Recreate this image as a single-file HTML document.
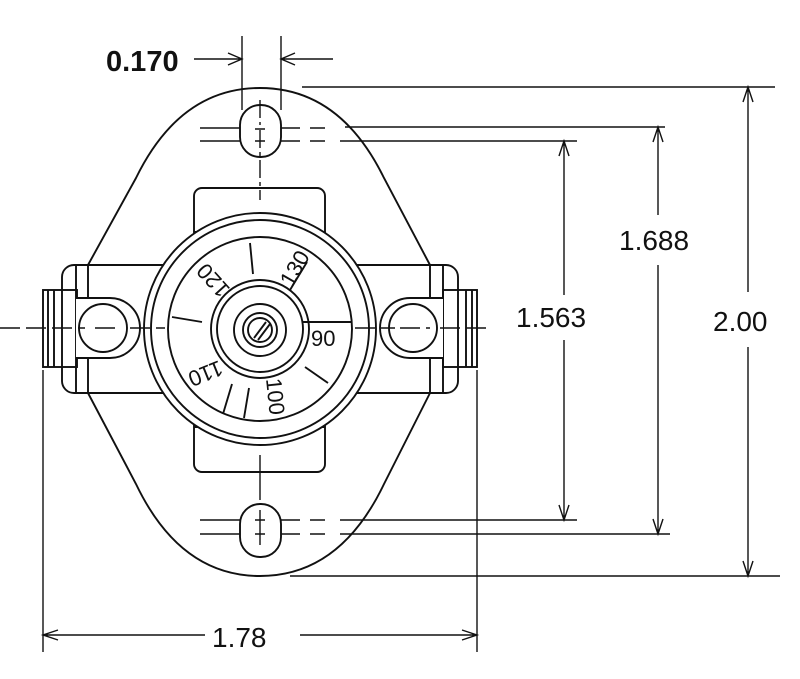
<!DOCTYPE html>
<html><head><style>html,body{margin:0;padding:0;background:#fff}svg{display:block}</style></head>
<body>
<svg width="800" height="679" viewBox="0 0 800 679" xmlns="http://www.w3.org/2000/svg" font-family="Liberation Sans, Arial, sans-serif">
<g fill="none" stroke="#111" stroke-width="1.9">
<path d="M88,265 L136,178 Q180,88 260,88 Q340,88 384,178 L430,265"/>
<path d="M88,393 L136,484 Q180,576 260,576 Q340,576 384,484 L430,393"/>
<path d="M76,265 H443 M76,393 H443"/>
<rect x="62" y="265" width="396" height="128" rx="12"/>
<path d="M76,265 V393 M88,265 V393 M430,265 V393 M443,265 V393"/>
<rect x="43" y="290" width="34" height="77"/>
<path d="M48,290 V367 M54,290 V367"/>
<rect x="443" y="290" width="34" height="77"/>
<path d="M472,290 V367 M466,290 V367"/>
<path d="M76,298 H110 A30,30 0 0 1 110,358 H76" fill="#fff"/>
<circle cx="103" cy="328" r="24"/>
<path d="M443,298 H410 A30,30 0 0 0 410,358 H443" fill="#fff"/>
<circle cx="413" cy="328" r="24"/>
<path d="M194,245 V196 A8,8 0 0 1 202,188 H317 A8,8 0 0 1 325,196 V245"/>
<path d="M194,232 H325"/>
<path d="M194,415 V464 A8,8 0 0 0 202,472 H317 A8,8 0 0 0 325,464 V415"/>
<path d="M194,427 H325"/>
<circle cx="260" cy="329" r="116" fill="#fff"/>
<circle cx="260" cy="329" r="109"/>
<circle cx="260" cy="329" r="92"/>
<circle cx="260" cy="329" r="49"/>
<circle cx="260" cy="329" r="43"/>
<circle cx="260" cy="330" r="26"/>
<circle cx="260" cy="330" r="17"/>
<circle cx="260" cy="330" r="12"/>
<path d="M254,338 L266,322 M258,340 L270,324"/>
<path d="M250,243 L253,274 M290,290 L307,262 M303,322 H351 M305,367 L328,383 M249,388 L244,418 M232,384 L223,414 M172,317 L202,322"/>
<rect x="240" y="105" width="41" height="52" rx="20" fill="#fff"/>
<rect x="240" y="504" width="41" height="53" rx="20" fill="#fff"/>
</g>
<g fill="none" stroke="#111" stroke-width="1.4">
<path d="M260,100 V125 M260,130 V200" stroke-dasharray="18,4,4,4"/>
<path d="M260,455 V500 M260,510 V545"/>
<path d="M0,328 H85 M95,328 H120 M130,328 H165" stroke-dasharray="20,6"/>
<path d="M355,328 H395 M400,328 H430 M440,328 H492" stroke-dasharray="20,6"/>
<path d="M200,128 H240 M281,128 H300 M310,128 H325 M200,141 H240 M281,141 H300 M310,141 H325"/>
<path d="M200,520 H240 M281,520 H300 M310,520 H325 M200,534 H240 M281,534 H300 M310,534 H325"/>
<path d="M255,129 H265 M255,141 H265 M255,520 H265 M255,534 H265"/>
</g>
<g fill="none" stroke="#111" stroke-width="1.4">
<path d="M242,36 V110 M281,36 V110"/>
<path d="M194,59 H242 M228,53 L242,59 L228,65"/>
<path d="M281,59 H333 M295,53 L281,59 L295,65"/>
<path d="M302,87 H775 M345,127 H665 M340,141 H577 M340,520 H577 M340,534 H670 M290,576 H780"/>
<path d="M564,141 V295 M564,340 V520 M559,156 L564,141 L569,156 M559,505 L564,520 L569,505"/>
<path d="M658,127 V215 M658,265 V534 M653,142 L658,127 L663,142 M653,519 L658,534 L663,519"/>
<path d="M748,87 V292 M748,347 V576 M743,102 L748,87 L753,102 M743,561 L748,576 L753,561"/>
<path d="M43,370 V652 M477,370 V652"/>
<path d="M43,635 H205 M300,635 H477 M58,630 L43,635 L58,640 M462,630 L477,635 L462,640"/>
</g>
<g fill="#111" font-size="28">
<text x="106" y="71" font-weight="bold" font-size="29">0.170</text>
<text x="516" y="327">1.563</text>
<text x="619" y="250">1.688</text>
<text x="713" y="331">2.00</text>
<text x="212" y="647">1.78</text>
</g>
<g fill="#111" font-size="22">
<text x="311" y="346">90</text>
<text transform="translate(292,288) rotate(-60)">130</text>
<text transform="translate(231,289) rotate(-132)">120</text>
<text transform="translate(219,360) rotate(158)">110</text>
<text transform="translate(266,379) rotate(84)">100</text>
</g>
</svg>
</body></html>
